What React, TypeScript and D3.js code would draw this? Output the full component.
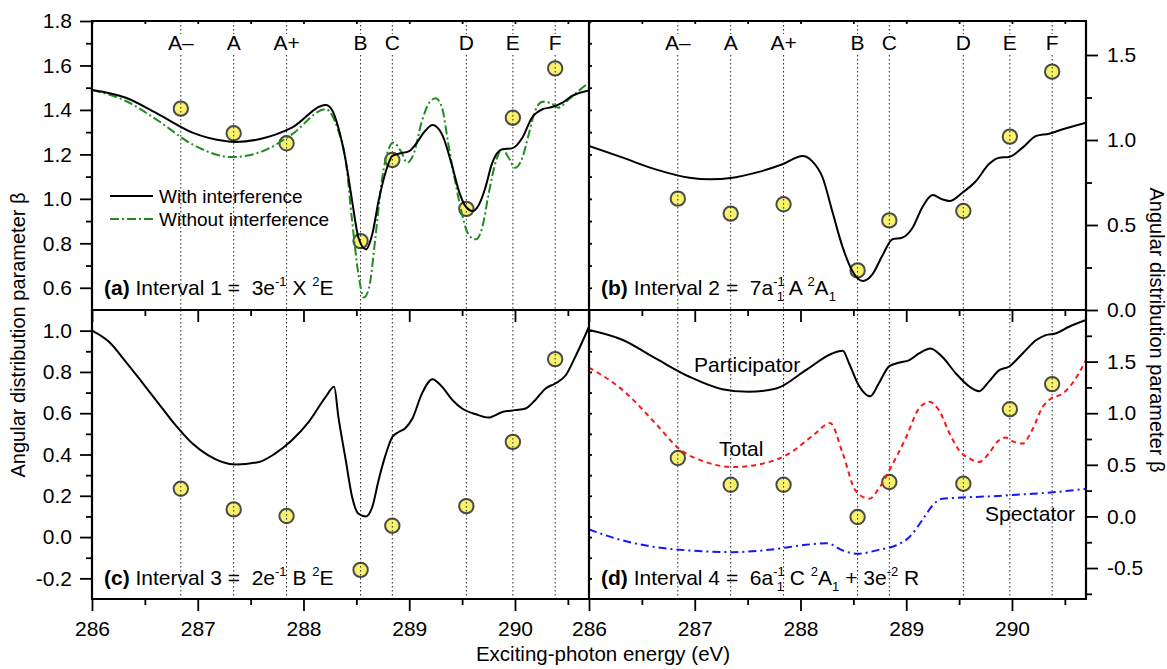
import React, { useEffect, useRef } from "react";
import * as d3 from "d3";

// resonance markers
const markerNames = ["A–", "A", "A+", "B", "C", "D", "E", "F"];
const markerEnergy = [286.84, 287.34, 287.84, 288.54, 288.84, 289.54, 289.98, 290.38];

// measured beta at the markers, one list per panel
const measuredA = [1.406, 1.295, 1.25, 0.81, 1.175, 0.955, 1.365, 1.587];
const measuredB = [0.655, 0.567, 0.622, 0.233, 0.527, 0.582, 1.02, 1.402];
const measuredC = [0.234, 0.134, 0.102, -0.159, 0.055, 0.15, 0.461, 0.862];
const measuredD = [0.566, 0.307, 0.307, -0.006, 0.333, 0.317, 1.039, 1.282];

// calculated curves, [energy, beta]
const withInterference = [
  [286.0, 1.49], [286.32, 1.455], [286.63, 1.38], [286.95, 1.298], [287.26, 1.26], [287.36, 1.256],
  [287.58, 1.268], [287.89, 1.32], [288.21, 1.422], [288.27, 1.4], [288.33, 1.32], [288.4, 1.17],
  [288.46, 0.99], [288.52, 0.825], [288.59, 0.773], [288.65, 0.84], [288.71, 0.99], [288.78, 1.125],
  [288.84, 1.193], [288.9, 1.203], [289.0, 1.215], [289.06, 1.245], [289.15, 1.305], [289.22, 1.332],
  [289.31, 1.29], [289.41, 1.14], [289.47, 1.035], [289.53, 0.968], [289.6, 0.945], [289.66, 0.975],
  [289.72, 1.05], [289.78, 1.155], [289.88, 1.223], [289.97, 1.227], [290.07, 1.275], [290.16, 1.365],
  [290.26, 1.403], [290.35, 1.413], [290.45, 1.433], [290.54, 1.463], [290.7, 1.488],
];
const withoutInterference = [
  [286.0, 1.49], [286.32, 1.44], [286.63, 1.35], [286.95, 1.245], [287.32, 1.188], [287.58, 1.208],
  [287.89, 1.29], [288.21, 1.403], [288.33, 1.305], [288.4, 1.17], [288.46, 0.9], [288.52, 0.66],
  [288.57, 0.556], [288.62, 0.6], [288.68, 0.825], [288.74, 1.08], [288.81, 1.23], [288.85, 1.253],
  [288.92, 1.215], [288.98, 1.163], [289.04, 1.2], [289.12, 1.35], [289.19, 1.433], [289.25, 1.452],
  [289.31, 1.41], [289.37, 1.245], [289.44, 1.065], [289.5, 0.93], [289.56, 0.84], [289.63, 0.818],
  [289.69, 0.87], [289.75, 1.02], [289.82, 1.17], [289.88, 1.223], [289.94, 1.185], [290.0, 1.14],
  [290.07, 1.185], [290.13, 1.29], [290.19, 1.395], [290.26, 1.437], [290.35, 1.428], [290.41, 1.41],
  [290.51, 1.448], [290.6, 1.485], [290.7, 1.523],
];
const interval2 = [
  [286.0, 0.965], [286.32, 0.896], [286.63, 0.827], [286.95, 0.778], [287.14, 0.769], [287.36, 0.778],
  [287.58, 0.808], [287.83, 0.857], [288.02, 0.906], [288.11, 0.876], [288.21, 0.778], [288.3, 0.582],
  [288.4, 0.367], [288.49, 0.23], [288.59, 0.171], [288.68, 0.21], [288.78, 0.327], [288.87, 0.416],
  [288.96, 0.425], [289.06, 0.484], [289.15, 0.602], [289.25, 0.676], [289.34, 0.651], [289.41, 0.641],
  [289.53, 0.69], [289.66, 0.759], [289.78, 0.857], [289.88, 0.896], [289.97, 0.9], [290.1, 0.955],
  [290.23, 1.024], [290.35, 1.037], [290.48, 1.063], [290.7, 1.102],
];
const interval3 = [
  [286.0, 1.0], [286.16, 0.946], [286.32, 0.849], [286.47, 0.752], [286.63, 0.647], [286.79, 0.542],
  [286.95, 0.453], [287.1, 0.396], [287.36, 0.351], [287.58, 0.364], [287.73, 0.404], [287.89, 0.469],
  [288.05, 0.558], [288.21, 0.679], [288.29, 0.728], [288.33, 0.582], [288.4, 0.372], [288.46, 0.194],
  [288.52, 0.113], [288.59, 0.1], [288.65, 0.145], [288.71, 0.275], [288.78, 0.404], [288.84, 0.485],
  [288.9, 0.509], [288.96, 0.526], [289.03, 0.574], [289.12, 0.695], [289.22, 0.765], [289.31, 0.728],
  [289.41, 0.663], [289.5, 0.623], [289.63, 0.595], [289.75, 0.579], [289.88, 0.606], [290.0, 0.615],
  [290.1, 0.623], [290.19, 0.663], [290.29, 0.72], [290.38, 0.744], [290.48, 0.784], [290.57, 0.873],
  [290.7, 1.019],
];
const participator = [
  [286.0, 1.806], [286.32, 1.709], [286.63, 1.531], [286.95, 1.353], [287.26, 1.233], [287.51, 1.207],
  [287.77, 1.239], [288.05, 1.417], [288.3, 1.579], [288.4, 1.605], [288.46, 1.482], [288.55, 1.272],
  [288.66, 1.165], [288.74, 1.288], [288.84, 1.456], [288.93, 1.489], [289.03, 1.515], [289.12, 1.579],
  [289.23, 1.628], [289.34, 1.547], [289.47, 1.385], [289.6, 1.256], [289.69, 1.214], [289.78, 1.304],
  [289.88, 1.417], [289.97, 1.45], [290.1, 1.579], [290.23, 1.709], [290.32, 1.757], [290.41, 1.773],
  [290.54, 1.838], [290.7, 1.903],
];
const total = [
  [286.0, 1.443], [286.32, 1.223], [286.63, 0.9], [286.85, 0.657], [287.1, 0.528], [287.36, 0.479],
  [287.64, 0.511], [287.89, 0.608], [288.14, 0.803], [288.28, 0.906], [288.4, 0.608], [288.52, 0.252],
  [288.65, 0.171], [288.74, 0.269], [288.84, 0.447], [289.0, 0.77], [289.12, 1.045], [289.22, 1.11],
  [289.31, 1.029], [289.41, 0.803], [289.5, 0.641], [289.6, 0.56], [289.69, 0.528], [289.78, 0.608],
  [289.86, 0.722], [289.94, 0.764], [290.02, 0.722], [290.1, 0.706], [290.19, 0.835], [290.29, 1.061],
  [290.37, 1.142], [290.48, 1.191], [290.57, 1.288], [290.7, 1.515],
];
const spectator = [
  [286.0, -0.126], [286.32, -0.233], [286.63, -0.298], [286.95, -0.33], [287.36, -0.346], [287.73, -0.32],
  [288.05, -0.275], [288.25, -0.259], [288.4, -0.33], [288.54, -0.362], [288.74, -0.324], [288.9, -0.282],
  [289.03, -0.2], [289.15, -0.039], [289.25, 0.107], [289.34, 0.171], [289.47, 0.181], [289.78, 0.194],
  [290.1, 0.214], [290.41, 0.236], [290.7, 0.269],
];

// axis ticks
const xMajor = [286, 287, 288, 289, 290];
const xMinor = [286.5, 287.5, 288.5, 289.5, 290.5];
const yMajorA = [0.6, 0.8, 1.0, 1.2, 1.4, 1.6, 1.8];
const yMinorA = [0.7, 0.9, 1.1, 1.3, 1.5, 1.7];
const yMajorB = [0, 0.5, 1.0, 1.5];
const yMinorB = [0.25, 0.75, 1.25];
const yMajorC = [-0.2, 0, 0.2, 0.4, 0.6, 0.8, 1.0];
const yMinorC = [-0.1, 0.1, 0.3, 0.5, 0.7, 0.9];
const yMajorD = [-0.5, 0, 0.5, 1.0, 1.5];
const yMinorD = [-0.75, -0.25, 0.25, 0.75, 1.25, 1.75];

const font = "'Liberation Sans', Arial, Helvetica, sans-serif";
const fs = 21;

function drawChart(svgEl) {
  const svg = d3.select(svgEl);
  svg.selectAll("*").remove();

  const left = 92, mid = 589, right = 1086;
  const top = 21, hmid = 310, bottom = 599;

  const xL = d3.scaleLinear().domain([286, 290.7]).range([left, mid]);
  const xR = d3.scaleLinear().domain([286, 290.7]).range([mid, right]);
  const yA = d3.scaleLinear().domain([0.5, 1.8]).range([hmid, top]);
  const yB = d3.scaleLinear().domain([0, 1.7]).range([hmid, top]);
  const yC = d3.scaleLinear().domain([-0.3, 1.1]).range([bottom, hmid]);
  const yD = d3.scaleLinear().domain([-0.8, 2.0]).range([bottom, hmid]);

  const panels = [
    { id: "a", x: xL, y: yA, y0: top, y1: hmid, pts: measuredA, labels: true },
    { id: "b", x: xR, y: yB, y0: top, y1: hmid, pts: measuredB, labels: true },
    { id: "c", x: xL, y: yC, y0: hmid, y1: bottom, pts: measuredC, labels: false },
    { id: "d", x: xR, y: yD, y0: hmid, y1: bottom, pts: measuredD, labels: false },
  ];

  const curves = [
    { p: 0, data: withoutInterference, color: "#1e8c1e", dash: "9,3,2,3" },
    { p: 0, data: withInterference, color: "#000", dash: null },
    { p: 1, data: interval2, color: "#000", dash: null },
    { p: 2, data: interval3, color: "#000", dash: null },
    { p: 3, data: participator, color: "#000", dash: null },
    { p: 3, data: total, color: "#ff1414", dash: "5,4" },
    { p: 3, data: spectator, color: "#1414ff", dash: "8,4,2,4" },
  ];

  const defs = svg.append("defs");
  panels.forEach((pn) => {
    const r = pn.x.range();
    defs.append("clipPath").attr("id", "clip-" + pn.id)
      .append("rect").attr("x", r[0]).attr("y", pn.y0).attr("width", r[1] - r[0]).attr("height", pn.y1 - pn.y0);
  });

  // measured points
  panels.forEach((pn) => {
    svg.append("g").selectAll("circle").data(pn.pts).enter().append("circle")
      .attr("cx", (d, i) => pn.x(markerEnergy[i]))
      .attr("cy", (d) => pn.y(d))
      .attr("r", 7.2)
      .attr("fill", "#f8f16c")
      .attr("stroke", "#4a4a4a")
      .attr("stroke-width", 2);
  });

  // dotted marker lines
  panels.forEach((pn) => {
    const g = svg.append("g").attr("stroke", "#222").attr("stroke-width", 1).attr("stroke-dasharray", "1.5,2.5");
    markerEnergy.forEach((e) => {
      const xx = pn.x(e);
      if (pn.labels) {
        g.append("line").attr("x1", xx).attr("x2", xx).attr("y1", pn.y0).attr("y2", 34);
        g.append("line").attr("x1", xx).attr("x2", xx).attr("y1", 55).attr("y2", pn.y1);
      } else {
        g.append("line").attr("x1", xx).attr("x2", xx).attr("y1", pn.y0).attr("y2", pn.y1);
      }
    });
    if (pn.labels) {
      svg.append("g").selectAll("text").data(markerNames).enter().append("text")
        .attr("x", (d, i) => pn.x(markerEnergy[i]))
        .attr("y", 50)
        .attr("text-anchor", "middle")
        .attr("font-family", font)
        .attr("font-size", fs)
        .text((d) => d);
    }
  });

  // curves
  curves.forEach((c) => {
    const pn = panels[c.p];
    const line = d3.line().x((d) => pn.x(d[0])).y((d) => pn.y(d[1])).curve(d3.curveMonotoneX);
    svg.append("path")
      .attr("clip-path", `url(#clip-${pn.id})`)
      .attr("d", line(c.data))
      .attr("fill", "none")
      .attr("stroke", c.color)
      .attr("stroke-width", 2)
      .attr("stroke-dasharray", c.dash);
  });

  // axes
  const styleAxis = (g) => {
    g.select(".domain").remove();
    g.attr("font-family", font).attr("font-size", fs);
    g.selectAll("line").attr("stroke-width", 1.8);
    g.selectAll("text").attr("fill", "#000");
  };
  const fmt = (d) => d.toFixed(1);

  svg.append("g").attr("transform", `translate(${left},0)`)
    .call(d3.axisLeft(yA).tickValues(yMajorA).tickSize(12).tickPadding(8).tickFormat(fmt)).call(styleAxis);
  svg.append("g").attr("transform", `translate(${left},0)`)
    .call(d3.axisLeft(yA).tickValues(yMinorA).tickSize(6).tickFormat(() => "")).call(styleAxis);
  svg.append("g").attr("transform", `translate(${left},0)`)
    .call(d3.axisLeft(yC).tickValues(yMajorC).tickSize(12).tickPadding(8).tickFormat(fmt)).call(styleAxis);
  svg.append("g").attr("transform", `translate(${left},0)`)
    .call(d3.axisLeft(yC).tickValues(yMinorC).tickSize(6).tickFormat(() => "")).call(styleAxis);

  svg.append("g").attr("transform", `translate(${right},0)`)
    .call(d3.axisRight(yB).tickValues(yMajorB).tickSize(12).tickPadding(9).tickFormat(fmt)).call(styleAxis);
  svg.append("g").attr("transform", `translate(${right},0)`)
    .call(d3.axisRight(yB).tickValues(yMinorB).tickSize(6).tickFormat(() => "")).call(styleAxis);
  svg.append("g").attr("transform", `translate(${right},0)`)
    .call(d3.axisRight(yD).tickValues(yMajorD).tickSize(12).tickPadding(9).tickFormat(fmt)).call(styleAxis);
  svg.append("g").attr("transform", `translate(${right},0)`)
    .call(d3.axisRight(yD).tickValues(yMinorD).tickSize(6).tickFormat(() => "")).call(styleAxis);

  [xL, xR].forEach((x) => {
    svg.append("g").attr("transform", `translate(0,${bottom})`)
      .call(d3.axisBottom(x).tickValues(xMajor).tickSize(12).tickPadding(10).tickFormat(d3.format("d"))).call(styleAxis);
    svg.append("g").attr("transform", `translate(0,${bottom})`)
      .call(d3.axisBottom(x).tickValues(xMinor).tickSize(6).tickFormat(() => "")).call(styleAxis);
    svg.append("g").attr("transform", `translate(0,${hmid})`)
      .call(d3.axisBottom(x).tickValues(xMajor).tickSize(12).tickFormat(() => "")).call(styleAxis);
    svg.append("g").attr("transform", `translate(0,${hmid})`)
      .call(d3.axisBottom(x).tickValues(xMinor).tickSize(6).tickFormat(() => "")).call(styleAxis);
    // small mirror ticks on the top edge
    svg.append("g").attr("transform", `translate(0,${top})`)
      .call(d3.axisBottom(x).tickValues(xMajor.concat(xMinor)).tickSize(3).tickFormat(() => "")).call(styleAxis);
  });

  // small mirror ticks of the left axes on the centre line
  svg.append("g").attr("transform", `translate(${mid},0)`)
    .call(d3.axisRight(yA).tickValues(yMajorA.concat(yMinorA)).tickSize(3).tickFormat(() => "")).call(styleAxis);
  svg.append("g").attr("transform", `translate(${mid},0)`)
    .call(d3.axisRight(yC).tickValues(yMajorC.concat(yMinorC)).tickSize(3).tickFormat(() => "")).call(styleAxis);

  // frame
  const frame = svg.append("g").attr("stroke", "#000").attr("stroke-width", 2.2).attr("fill", "none");
  [left, mid, right].forEach((xx) =>
    frame.append("line").attr("x1", xx).attr("x2", xx).attr("y1", top).attr("y2", bottom));
  [top, hmid, bottom].forEach((yy) =>
    frame.append("line").attr("x1", left - 1).attr("x2", right + 1).attr("y1", yy).attr("y2", yy));

  // legend in (a)
  const legend = [
    { name: "With interference", color: "#000", dash: null, y: 196 },
    { name: "Without interference", color: "#1e8c1e", dash: "9,3,2,3", y: 219 },
  ];
  legend.forEach((l) => {
    svg.append("line").attr("x1", 110).attr("x2", 153).attr("y1", l.y).attr("y2", l.y)
      .attr("stroke", l.color).attr("stroke-width", 2).attr("stroke-dasharray", l.dash);
    svg.append("text").attr("x", 159).attr("y", l.y + 7)
      .attr("font-family", font).attr("font-size", 19).text(l.name);
  });

  // curve names in (d)
  [["Participator", 694, 372], ["Total", 719, 456], ["Spectator", 985, 521]].forEach(([t, x, y]) => {
    svg.append("text").attr("x", x).attr("y", y).attr("font-family", font).attr("font-size", fs).text(t);
  });

  // panel captions
  const captions = [
    { x: 104, y: 295, segs: [["(a)", 0, fs, 0, true], [" Interval 1 =  3e", 0], ["-1", -9, 13], [" X ", 0], ["2", -9, 13], ["E", 0]] },
    { x: 601, y: 295, segs: [["(b)", 0, fs, 0, true], [" Interval 2 =  7a", 0], ["-1", -9, 13], ["1", 6, 13, -7], [" A ", 0], ["2", -9, 13], ["A", 0], ["1", 6, 13]] },
    { x: 104, y: 585, segs: [["(c)", 0, fs, 0, true], [" Interval 3 =  2e", 0], ["-1", -9, 13], [" B ", 0], ["2", -9, 13], ["E", 0]] },
    { x: 601, y: 585, segs: [["(d)", 0, fs, 0, true], [" Interval 4 =  6a", 0], ["-1", -9, 13], ["1", 6, 13, -7], [" C ", 0], ["2", -9, 13], ["A", 0], ["1", 6, 13], [" + 3e", 0], ["-2", -9, 13], [" R", 0]] },
  ];
  captions.forEach((c) => {
    const t = svg.append("text").attr("x", c.x).attr("y", c.y)
      .attr("font-family", font).attr("font-size", fs).style("white-space", "pre");
    let shift = 0;
    c.segs.forEach(([txt, s, size, dx, bold]) => {
      const ts = t.append("tspan").attr("dy", s - shift).attr("font-size", size || fs).text(txt);
      if (dx) ts.attr("dx", dx);
      if (bold) ts.attr("font-weight", "bold");
      shift = s;
    });
  });

  // axis titles
  svg.append("text").attr("transform", "translate(25,335) rotate(-90)")
    .attr("text-anchor", "middle").attr("font-family", font).attr("font-size", 20)
    .text("Angular distribution parameter β");
  svg.append("text").attr("transform", "translate(1150,330) rotate(90)")
    .attr("text-anchor", "middle").attr("font-family", font).attr("font-size", 20)
    .text("Angular distribution parameter β");
  svg.append("text").attr("x", 603).attr("y", 661)
    .attr("text-anchor", "middle").attr("font-family", font).attr("font-size", 20.5)
    .text("Exciting-photon energy (eV)");
}

export default function App() {
  const svgRef = useRef(null);

  useEffect(() => {
    drawChart(svgRef.current);
  }, []);

  return (
    <svg
      ref={svgRef}
      width={1167}
      height={669}
      style={{ position: "absolute", left: 0, top: 0, background: "#fff" }}
    />
  );
}
